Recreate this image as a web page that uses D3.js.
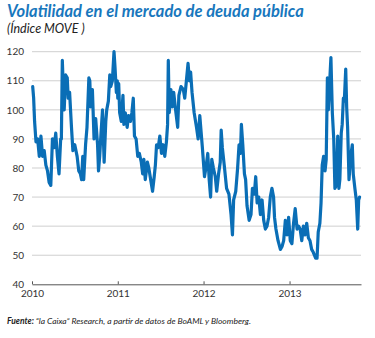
<!DOCTYPE html>
<html>
<head>
<meta charset="utf-8">
<script src="https://cdn.jsdelivr.net/npm/d3@7"></script>
<style>
  html, body { margin: 0; padding: 0; background: #fff; }
  svg { display: block; }
  text { font-family: Lato, "Open Sans", sans-serif; }
</style>
</head>
<body>
<svg id="chart" width="375" height="338"></svg>
<script>
// Índice MOVE, 2010 – octubre 2013
const dates = [
  "2010-01-04","2010-01-08","2010-01-12","2010-01-18","2010-01-25","2010-02-01","2010-02-08","2010-02-15","2010-02-22","2010-03-01",
  "2010-03-08","2010-03-15","2010-03-22","2010-03-29","2010-04-05","2010-04-12","2010-04-19","2010-04-26","2010-05-03","2010-05-06",
  "2010-05-10","2010-05-14","2010-05-18","2010-05-24","2010-05-31","2010-06-04","2010-06-10","2010-06-18","2010-06-24","2010-07-02",
  "2010-07-12","2010-07-19","2010-07-26","2010-07-31","2010-08-05","2010-08-09","2010-08-17","2010-08-23","2010-08-31","2010-09-04",
  "2010-09-08","2010-09-15","2010-09-22","2010-09-29","2010-10-07","2010-10-11","2010-10-16","2010-10-21","2010-10-28","2010-11-04",
  "2010-11-11","2010-11-15","2010-11-22","2010-11-28","2010-12-02","2010-12-09","2010-12-16","2010-12-20","2010-12-26","2010-12-30",
  "2011-01-01","2011-01-05","2011-01-09","2011-01-16","2011-01-23","2011-01-27","2011-02-02","2011-02-10","2011-02-16","2011-02-24",
  "2011-03-02","2011-03-08","2011-03-13","2011-03-20","2011-03-27","2011-04-03","2011-04-11","2011-04-17","2011-04-22","2011-04-28",
  "2011-05-07","2011-05-13","2011-05-21","2011-05-29","2011-06-05","2011-06-10","2011-06-15","2011-06-22","2011-06-29","2011-07-06",
  "2011-07-13","2011-07-20","2011-07-27","2011-08-01","2011-08-04","2011-08-08","2011-08-15","2011-08-21","2011-08-27","2011-09-04",
  "2011-09-13","2011-09-18","2011-09-27","2011-10-07","2011-10-13","2011-10-20","2011-10-27","2011-11-02","2011-11-07","2011-11-13",
  "2011-11-22","2011-12-02","2011-12-09","2011-12-16","2011-12-22","2011-12-27","2012-01-05","2012-01-11","2012-01-19","2012-01-25",
  "2012-01-31","2012-02-05","2012-02-12","2012-02-20","2012-02-26","2012-03-05","2012-03-12","2012-03-16","2012-03-21","2012-03-29",
  "2012-04-08","2012-04-18","2012-04-27","2012-05-03","2012-05-08","2012-05-17","2012-05-25","2012-05-31","2012-06-06","2012-06-10",
  "2012-06-16","2012-06-23","2012-06-28","2012-07-04","2012-07-13","2012-07-21","2012-07-27","2012-08-04","2012-08-10","2012-08-16",
  "2012-08-23","2012-08-30","2012-09-06","2012-09-13","2012-09-20","2012-09-27","2012-10-04","2012-10-11","2012-10-18","2012-10-25",
  "2012-10-29","2012-11-04","2012-11-13","2012-11-23","2012-11-30","2012-12-07","2012-12-14","2012-12-21","2012-12-28","2013-01-04",
  "2013-01-11","2013-01-18","2013-01-25","2013-02-02","2013-02-08","2013-02-15","2013-02-22","2013-03-01","2013-03-08","2013-03-15",
  "2013-03-22","2013-03-29","2013-04-05","2013-04-12","2013-04-22","2013-04-28","2013-05-03","2013-05-10","2013-05-15","2013-05-20",
  "2013-05-26","2013-06-01","2013-06-06","2013-06-11","2013-06-15","2013-06-21","2013-06-26","2013-07-02","2013-07-08","2013-07-13",
  "2013-07-19","2013-07-25","2013-07-30","2013-08-03","2013-08-09","2013-08-13","2013-08-18","2013-08-22","2013-08-28","2013-09-01",
  "2013-09-05","2013-09-11","2013-09-18","2013-09-25","2013-09-29","2013-10-06","2013-10-12","2013-10-18","2013-10-22","2013-10-26"
];
const moveValues = [
  108,104,96,89,90,84,91,84,86,81,
  79,75,74,90,87,92,84,78,90,90,
  117,108,100,112,111,104,106,94,86,88,
  84,79,78,76,84,76,88,94,111,110,
  101,107,90,97,88,79,84,91,100,82,
  96,100,103,112,108,110,120,115,106,110,
  104,109,99,96,105,95,99,94,98,96,
  99,104,91,90,84,85,82,78,83,76,
  82,80,76,72,77,81,88,87,91,85,
  88,84,89,95,117,99,107,101,106,100,
  94,105,108,107,104,110,116,110,113,106,
  99,94,90,98,92,87,77,80,85,76,
  70,83,80,77,72,78,82,93,87,81,
  73,71,64,57,69,72,80,88,85,95,
  88,78,76,67,62,64,73,71,77,68,
  70,64,69,62,59,60,63,70,73,70,
  63,59,55,52,53,55,62,57,63,55,
  54,61,66,59,60,59,55,60,57,61,
  56,55,52,51,49,49,58,61,68,81,
  84,79,83,111,100,110,118,99,90,73,
  74,91,73,76,92,95,104,103,114,101,
  94,76,84,88,78,73,69,59,69,70
];
const yTicks = [40, 50, 60, 70, 80, 90, 100, 110, 120];
const xTickYears = ["2010", "2011", "2012", "2013"];

const titleText = "Volatilidad en el mercado de deuda pública";
const subtitleText = "(Índice MOVE )";
const sourceLabel = "Fuente:";
const sourceText = " “la Caixa” Research, a partir de datos de BoAML y Bloomberg.";

const parse = d3.timeParse("%Y-%m-%d");
const series = dates.map((d, i) => ({ date: parse(d), value: moveValues[i] }));

const svg = d3.select("#chart");
const plotLeft = 32, plotRight = 361, plotTop = 51.7, plotBottom = 284.3;

const x = d3.scaleTime()
  .domain([parse("2010-01-01"), parse("2013-11-01")])
  .range([plotLeft, plotRight]);
const y = d3.scaleLinear().domain([40, 120]).range([plotBottom, plotTop]);

// Title block
svg.append("text")
  .attr("x", 7).attr("y", 17)
  .attr("fill", "#1877bd")
  .attr("font-size", 16.5).attr("font-weight", 700).attr("font-style", "italic")
  .text(titleText);
svg.append("text")
  .attr("x", 7).attr("y", 33)
  .attr("fill", "#222")
  .attr("font-size", 12.5).attr("font-style", "italic")
  .text(subtitleText);

// Horizontal gridlines
svg.append("g")
  .selectAll("line")
  .data(yTicks.filter(v => v > 40))
  .join("line")
  .attr("x1", plotLeft).attr("x2", plotRight)
  .attr("y1", d => y(d)).attr("y2", d => y(d))
  .attr("stroke", "#cfcfcf").attr("stroke-width", 1);

// Y axis labels
const yAxis = d3.axisLeft(y).tickValues(yTicks).tickSize(0).tickPadding(8);
const gy = svg.append("g").attr("transform", `translate(${plotLeft},0)`).call(yAxis);
gy.select(".domain").remove();
gy.selectAll("text")
  .attr("font-family", "Lato, 'Open Sans', sans-serif")
  .attr("font-size", 10).attr("fill", "#333");

// X axis along the 40 line, ticks pointing into the plot
const xAxis = d3.axisBottom(x)
  .tickValues(xTickYears.map(s => parse(s + "-01-01")))
  .tickFormat(d3.timeFormat("%Y"))
  .tickSizeInner(-3).tickSizeOuter(0).tickPadding(6);
const gx = svg.append("g").attr("transform", `translate(0,${plotBottom})`).call(xAxis);
gx.select(".domain").attr("stroke", "#555").attr("stroke-width", 1);
gx.selectAll(".tick line").attr("stroke", "#555");
gx.selectAll("text")
  .attr("font-family", "Lato, 'Open Sans', sans-serif")
  .attr("font-size", 10).attr("fill", "#333");

// MOVE index line
const line = d3.line()
  .x(d => x(d.date))
  .y(d => y(d.value));
svg.append("path")
  .datum(series)
  .attr("d", line)
  .attr("fill", "none")
  .attr("stroke", "#0a6eb6")
  .attr("stroke-width", 3.2)
  .attr("stroke-linejoin", "round")
  .attr("stroke-linecap", "round");

// Source note
const src = svg.append("text")
  .attr("x", 7).attr("y", 324)
  .attr("font-size", 8.5).attr("font-style", "italic").attr("fill", "#222");
src.append("tspan").attr("font-weight", 700).text(sourceLabel);
src.append("tspan").text(sourceText);
</script>
</body>
</html>
